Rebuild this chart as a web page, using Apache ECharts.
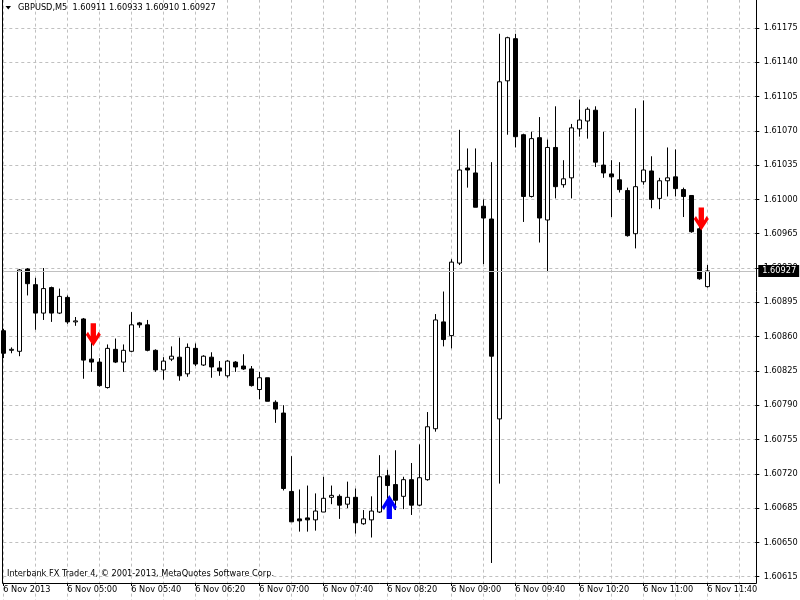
<!DOCTYPE html>
<html>
<head>
<meta charset="utf-8">
<title>GBPUSD,M5</title>
<script src="https://cdn.jsdelivr.net/npm/echarts@6/dist/echarts.min.js"></script>
<style>
  html, body { margin: 0; padding: 0; background: #fff; }
  #chart { width: 800px; height: 600px; }
</style>
</head>
<body>
<div id="chart"></div>
<script>
// 5 minute bars, 6 Nov 2013
const times = [
  '04:20','04:25','04:30','04:35','04:40','04:45','04:50','04:55','05:00','05:05','05:10','05:15',
  '05:20','05:25','05:30','05:35','05:40','05:45','05:50','05:55','06:00','06:05','06:10','06:15',
  '06:20','06:25','06:30','06:35','06:40','06:45','06:50','06:55','07:00','07:05','07:10','07:15',
  '07:20','07:25','07:30','07:35','07:40','07:45','07:50','07:55','08:00','08:05','08:10','08:15',
  '08:20','08:25','08:30','08:35','08:40','08:45','08:50','08:55','09:00','09:05','09:10','09:15',
  '09:20','09:25','09:30','09:35','09:40','09:45','09:50','09:55','10:00','10:05','10:10','10:15',
  '10:20','10:25','10:30','10:35','10:40','10:45','10:50','10:55','11:00','11:05','11:10','11:15',
  '11:20','11:25','11:30','11:35','11:40'
]
// empty space right of the last bar
const emptySlots = ['', '', '', '', '', '']

const opens = [
  1.60866,1.60846,1.60845,1.60929,1.60913,1.60884,1.60910,1.60884,1.60900,1.60875,1.60878,1.60837,
  1.60834,1.60808,1.60847,1.60834,1.60845,1.60874,1.60872,1.60846,1.60826,1.60837,1.60839,1.60822,
  1.60848,1.60831,1.60839,1.60828,1.60820,1.60834,1.60830,1.60827,1.60806,1.60818,1.60793,1.60782,
  1.60702,1.60674,1.60675,1.60673,1.60681,1.60696,1.60697,1.60689,1.60696,1.60669,1.60673,1.60681,
  1.60718,1.60709,1.60697,1.60714,1.60688,1.60714,1.60766,1.60875,1.60861,1.60935,1.61032,1.61027,
  1.60993,1.60980,1.60776,1.61121,1.61164,1.61066,1.61003,1.61063,1.60979,1.61053,1.61015,1.61022,
  1.61072,1.61080,1.61091,1.61035,1.61026,1.61020,1.61009,1.60965,1.61018,1.61029,1.61001,1.61019,
  1.61023,1.61010,1.61004,1.60970,1.60911
]
const closes = [
  1.60843,1.60847,1.60928,1.60914,1.60884,1.60909,1.60884,1.60901,1.60875,1.60876,1.60836,1.60834,
  1.60810,1.60848,1.60834,1.60846,1.60872,1.60872,1.60846,1.60826,1.60835,1.60840,1.60820,1.60849,
  1.60832,1.60840,1.60829,1.60825,1.60835,1.60829,1.60827,1.60810,1.60818,1.60794,1.60786,1.60705,
  1.60671,1.60672,1.60673,1.60682,1.60695,1.60698,1.60688,1.60696,1.60670,1.60674,1.60682,1.60717,
  1.60708,1.60693,1.60714,1.60688,1.60716,1.60768,1.60877,1.60857,1.60936,1.61030,1.61030,1.60992,
  1.60981,1.60840,1.61120,1.61165,1.61064,1.61003,1.61062,1.60981,1.61053,1.61013,1.61021,1.61073,
  1.61081,1.61092,1.61038,1.61027,1.61023,1.61010,1.60963,1.61013,1.61030,1.61000,1.61019,1.61022,
  1.61011,1.61003,1.60967,1.60919,1.60927
]
const lows = [
  1.60838,1.60843,1.60840,1.60902,1.60867,1.60877,1.60875,1.60883,1.60873,1.60871,1.60817,1.60824,
  1.60809,1.60807,1.60833,1.60824,1.60844,1.60869,1.60845,1.60824,1.60816,1.60835,1.60815,1.60819,
  1.60830,1.60830,1.60818,1.60820,1.60818,1.60824,1.60826,1.60809,1.60796,1.60794,1.60772,1.60703,
  1.60671,1.60661,1.60661,1.60662,1.60681,1.60689,1.60674,1.60685,1.60659,1.60668,1.60655,1.60680,
  1.60695,1.60683,1.60684,1.60678,1.60687,1.60713,1.60763,1.60850,1.60848,1.60933,1.61012,1.60992,
  1.60934,1.60629,1.60710,1.61066,1.61053,1.60977,1.61002,1.60956,1.60926,1.61001,1.61012,1.61001,
  1.61064,1.61062,1.61033,1.61022,1.60982,1.61007,1.60962,1.60950,1.61015,1.60991,1.60990,1.61003,
  1.61003,1.60982,1.60966,1.60918,1.60910
]
const highs = [
  1.60868,1.60849,1.60929,1.60930,1.60920,1.60930,1.60911,1.60909,1.60902,1.60880,1.60879,1.60856,
  1.60838,1.60852,1.60858,1.60852,1.60885,1.60875,1.60877,1.60847,1.60839,1.60850,1.60859,1.60853,
  1.60853,1.60841,1.60844,1.60835,1.60836,1.60835,1.60842,1.60830,1.60824,1.60818,1.60795,1.60790,
  1.60738,1.60704,1.60708,1.60700,1.60717,1.60708,1.60699,1.60712,1.60705,1.60683,1.60697,1.60739,
  1.60724,1.60744,1.60717,1.60731,1.60750,1.60783,1.60883,1.60906,1.60939,1.61071,1.61052,1.61052,
  1.61000,1.61038,1.61169,1.61166,1.61169,1.61067,1.61069,1.61084,1.61061,1.61095,1.61040,1.61077,
  1.61102,1.61094,1.61095,1.61069,1.61040,1.61038,1.61012,1.61093,1.61101,1.61044,1.61022,1.61053,
  1.61051,1.61012,1.61004,1.60972,1.60933
]

// arrow objects on the chart: [bar index, price]
const sellArrows = [[11, 1.60862], [87, 1.60980]]
const buyArrows = [[48, 1.60686]]

const priceTicks = { min: 1.60580, max: 1.61210, step: 0.00035 }

const font = 'DejaVu Sans'
const fontSize = 8.2

const downArrow = 'path://M4.5,0 L9.5,0 L9.5,13 L12,8.5 L14,11.5 L7,23 L0,11.5 L2,8.5 L4.5,13 Z'
const upArrow = 'path://M4.5,23 L9.5,23 L9.5,10 L12,14.5 L14,11.5 L7,0 L0,11.5 L2,14.5 L4.5,10 Z'

const candles = opens.map((o, i) => [o, closes[i], lows[i], highs[i]])
const lastClose = closes[closes.length - 1]

const initChart = () => {
  var chartDom = document.getElementById('chart');
  var myChart = echarts.init(chartDom, null, { renderer: 'canvas' });
  var option;
  option = {
    animation: false,
    backgroundColor: '#fff',
    grid: {
      left: 3.3,
      right: 44.7,
      top: -6.4,
      bottom: -11,
      outerBoundsMode: 'none',
      containLabel: false
    },
    xAxis: {
      type: 'category',
      data: times.concat(emptySlots),
      boundaryGap: false,
      offset: -28,
      axisLine: { show: false },
      axisTick: {
        show: true,
        interval: 7,
        length: 3,
        lineStyle: { color: '#000' }
      },
      axisLabel: {
        interval: 7,
        align: 'left',
        margin: 3,
        color: '#000',
        fontFamily: font,
        fontSize: fontSize,
        formatter: (val, idx) => idx === 0 ? '6 Nov 2013' : '6 Nov ' + val
      },
      splitLine: {
        show: true,
        interval: 3,
        lineStyle: { color: '#c0c0c0', type: [3, 3] }
      }
    },
    yAxis: {
      type: 'value',
      position: 'right',
      scale: true,
      min: priceTicks.min,
      max: priceTicks.max,
      interval: priceTicks.step,
      axisLine: { show: false },
      axisTick: { show: true, length: 4, lineStyle: { color: '#000' } },
      axisLabel: {
        margin: 8.5,
        color: '#000',
        fontFamily: font,
        fontSize: fontSize,
        formatter: v => v.toFixed(5)
      },
      splitLine: {
        show: true,
        lineStyle: { color: '#c0c0c0', type: [3, 3] }
      }
    },
    series: [
      {
        type: 'candlestick',
        data: candles,
        barWidth: 4,
        clip: true,
        itemStyle: {
          color: '#fff',
          color0: '#000',
          borderColor: '#000',
          borderColor0: '#000',
          borderColorDoji: '#000',
          borderWidth: 1
        }
      },
      {
        type: 'scatter',
        data: sellArrows,
        symbol: downArrow,
        symbolSize: [15, 23],
        symbolOffset: [2, 0],
        itemStyle: { color: '#ff0000', opacity: 1 },
        z: 5
      },
      {
        type: 'scatter',
        data: buyArrows,
        symbol: upArrow,
        symbolSize: [15, 24],
        symbolOffset: [2, 0],
        itemStyle: { color: '#0000ff', opacity: 1 },
        z: 5,
        // bid line with the last price
        markLine: {
          silent: true,
          symbol: 'none',
          animation: false,
          precision: 5,
          lineStyle: { color: '#c0c0c0', type: 'solid', width: 1 },
          label: {
            show: true,
            position: 'end',
            distance: 3,
            formatter: lastClose.toFixed(5),
            color: '#fff',
            backgroundColor: '#000',
            padding: [2, 3, 2, 4],
            fontFamily: font,
            fontSize: fontSize
          },
          data: [{ yAxis: lastClose }]
        }
      }
    ],
    graphic: [
      {
        type: 'polyline',
        z: 20,
        shape: { points: [[2.5, 0], [2.5, 583.5], [756.5, 583.5], [756.5, 0]] },
        style: { fill: null, stroke: '#000', lineWidth: 1 }
      },
      {
        type: 'polygon',
        z: 20,
        shape: { points: [[5.5, 6], [11, 6], [8.25, 9.5]] },
        style: { fill: '#000' }
      },
      {
        type: 'text',
        z: 20,
        left: 18,
        top: 4,
        style: {
          text: 'GBPUSD,M5  ' + [opens, highs, lows, closes].map(a => a[a.length - 1].toFixed(5)).join(' '),
          fill: '#000',
          font: fontSize + 'px "' + font + '"'
        }
      },
      {
        type: 'text',
        z: 20,
        left: 7,
        top: 570,
        style: {
          text: 'Interbank FX Trader 4, \u00a9 2001-2013, MetaQuotes Software Corp.',
          fill: '#000',
          font: fontSize + 'px "' + font + '"'
        }
      }
    ]
  };
  option && myChart.setOption(option);
}

initChart()
</script>
</body>
</html>
